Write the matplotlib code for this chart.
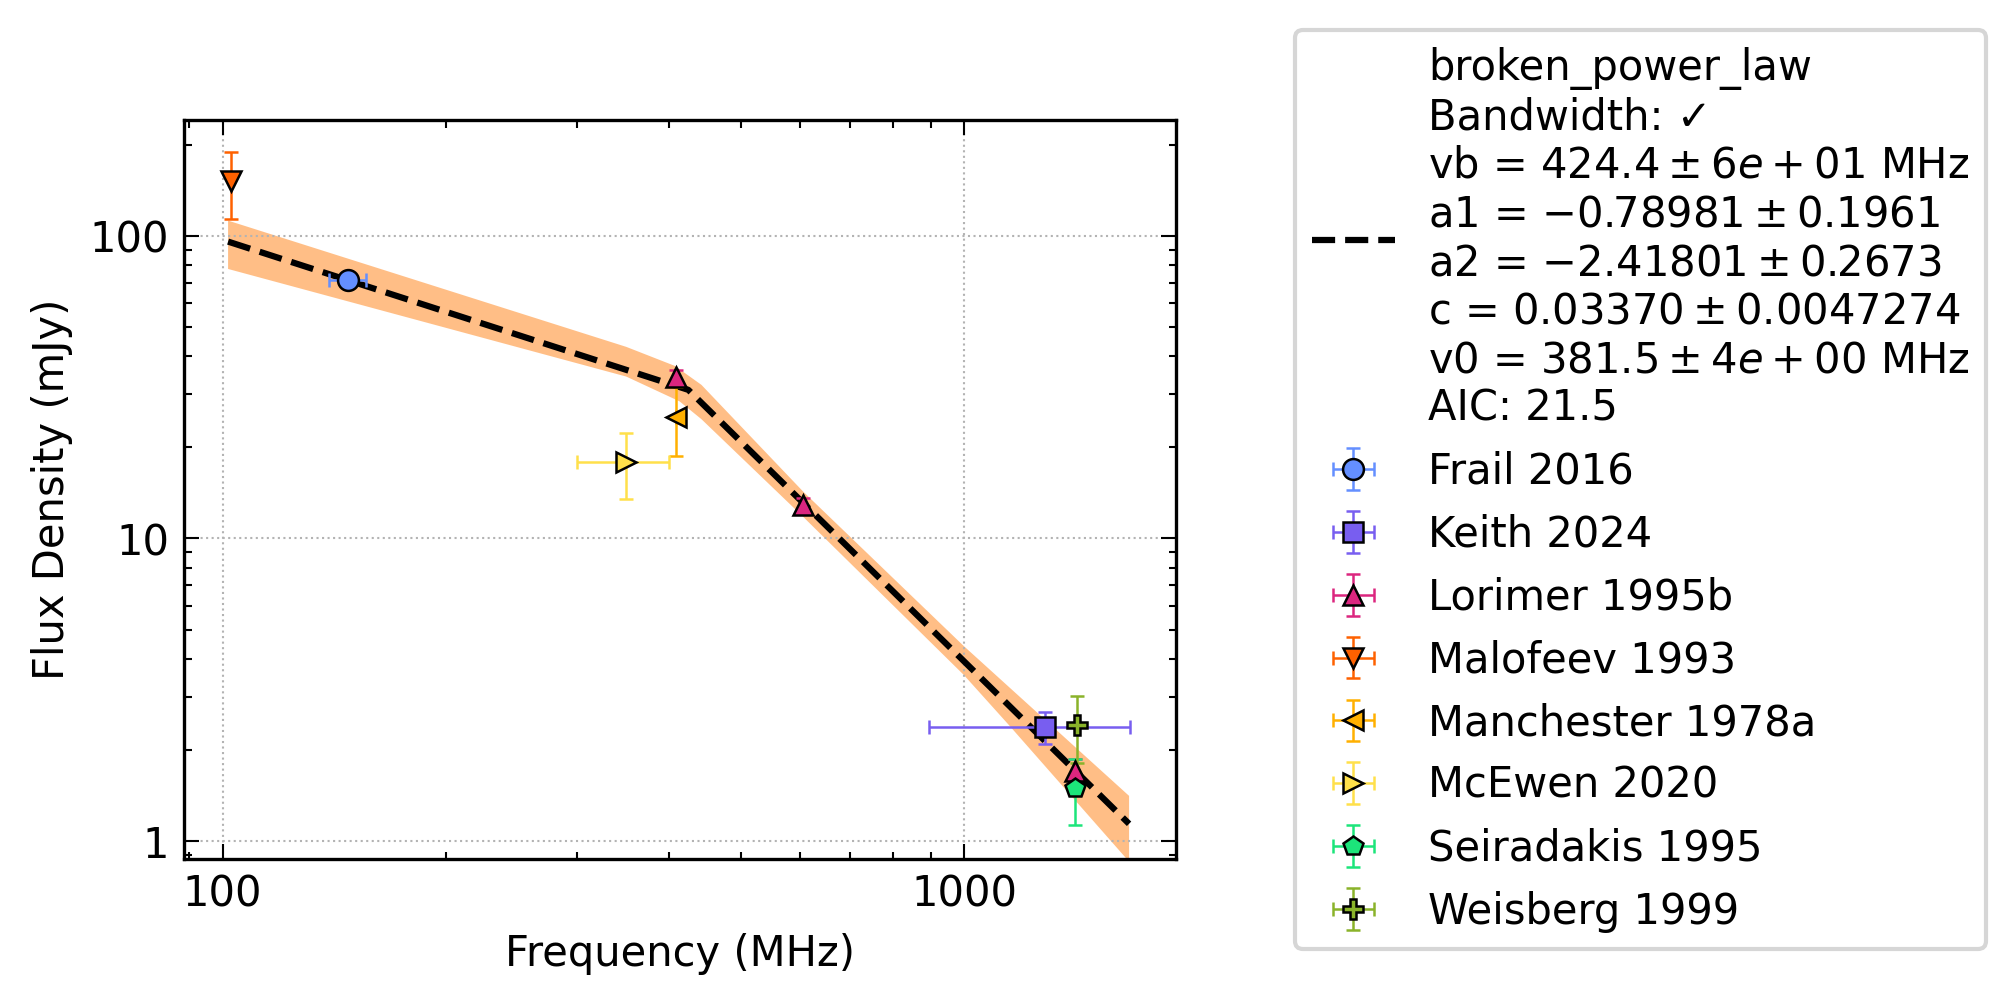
import matplotlib
matplotlib.use("Agg")
import matplotlib.pyplot as plt
from matplotlib.ticker import FormatStrFormatter, NullFormatter, LogLocator

plt.rcParams["font.family"] = ["DejaVu Sans"]
plt.rcParams["font.size"] = 10
plt.rcParams["mathtext.fontset"] = "dejavusans"

# literature flux densities (MHz, mJy)
survey_names = ["Frail 2016", "Keith 2024", "Lorimer 1995b", "Malofeev 1993",
                "Manchester 1978a", "McEwen 2020", "Seiradakis 1995", "Weisberg 1999"]
survey_freq = [[147.5], [1284.0], [408.0, 606.0, 1408.0], [102.5], [408.0], [350.0], [1410.0], [1418.0]]
survey_freq_err = [[8.5], [389.0], [0.0, 0.0, 0.0], [0.0], [0.0], [50.0], [0.0], [0.0]]
survey_flux = [[71.4], [2.39], [34.2, 12.9, 1.70], [152.0], [25.2], [17.9], [1.50], [2.41]]
survey_flux_err = [[3.0], [0.29], [1.8, 0.7, 0.17], [38.0], [6.5], [4.4], [0.37], [0.60]]
survey_colors = ["#648FFF", "#785EF0", "#DC267F", "#FE6100", "#FFB000", "#FFE04A", "#1CE57A", "#8AB32A"]
survey_markers = ["o", "s", "^", "v", "<", ">", "p", "P"]

# best fit broken power law
fit_freq = [101.7, 424.4, 1667.0]
fit_flux = [95.8, 31.0, 1.14]

# uncertainty envelope
band_upper_freq = [101.7, 350.0, 407.0, 442.0, 606.0, 998.0, 1667.0]
band_upper_flux = [112.4, 43.0, 37.2, 32.2, 14.3, 4.41, 1.41]
band_lower_freq = [101.7, 350.0, 413.0, 442.0, 606.0, 998.0, 1151.0, 1667.0]
band_lower_flux = [77.8, 34.3, 28.4, 24.8, 11.8, 3.54, 2.40, 0.855]

fit_label = ("broken_power_law\n"
             "Bandwidth: \u2713\n"
             "vb = $424.4 \\pm 6e+01$ MHz\n"
             "a1 = $-0.78981 \\pm 0.1961$\n"
             "a2 = $-2.41801 \\pm 0.2673$\n"
             "c = $0.03370 \\pm 0.0047274$\n"
             "v0 = $381.5 \\pm 4e+00$ MHz\n"
             "AIC: 21.5")

fig = plt.figure(figsize=(6.72, 3.3467), dpi=300)
ax = fig.add_axes([0.0911, 0.1441, 0.4922, 0.7364])

poly_x = band_upper_freq + band_lower_freq[::-1]
poly_y = band_upper_flux + band_lower_flux[::-1]
ax.fill(poly_x, poly_y, color="C1", alpha=0.5, lw=0, zorder=1)

fit_line, = ax.plot(fit_freq, fit_flux, "k--", lw=1.5, label=fit_label, zorder=3)

handles = [fit_line]
for name, f, fe, s, se, col, mk in zip(survey_names, survey_freq, survey_freq_err,
                                        survey_flux, survey_flux_err,
                                        survey_colors, survey_markers):
    h = ax.errorbar(f, s, xerr=fe, yerr=se, fmt=mk, color=col, ecolor=col,
                    mec="black", mew=0.6, ms=5, elinewidth=0.6, capsize=1.6,
                    capthick=0.6, label=name, zorder=4)
    handles.append(h)

ax.set_xscale("log")
ax.set_yscale("log")
ax.set_xlim(88.6, 1928)
ax.set_ylim(0.87, 241.8)

for axis in (ax.xaxis, ax.yaxis):
    axis.set_major_locator(LogLocator(base=10))
    axis.set_minor_locator(LogLocator(base=10, subs=range(2, 10)))
    axis.set_major_formatter(FormatStrFormatter("%g"))
    axis.set_minor_formatter(NullFormatter())

ax.tick_params(which="both", direction="in", top=True, right=True, width=0.5)
ax.tick_params(which="major", length=3.5)
ax.tick_params(which="minor", length=1.8)
for sp in ax.spines.values():
    sp.set_linewidth(0.8)

ax.grid(True, which="major", ls=":", color="0.7", lw=0.5)
ax.set_xlabel("Frequency (MHz)")
ax.set_ylabel("Flux Density (mJy)")

ax.legend(handles=handles, loc="upper left", bbox_to_anchor=(1295 / 2016, 1 - 30 / 1004),
          bbox_transform=fig.transFigure, borderaxespad=0, labelspacing=0.5)

fig.savefig("out.png", dpi=300)
